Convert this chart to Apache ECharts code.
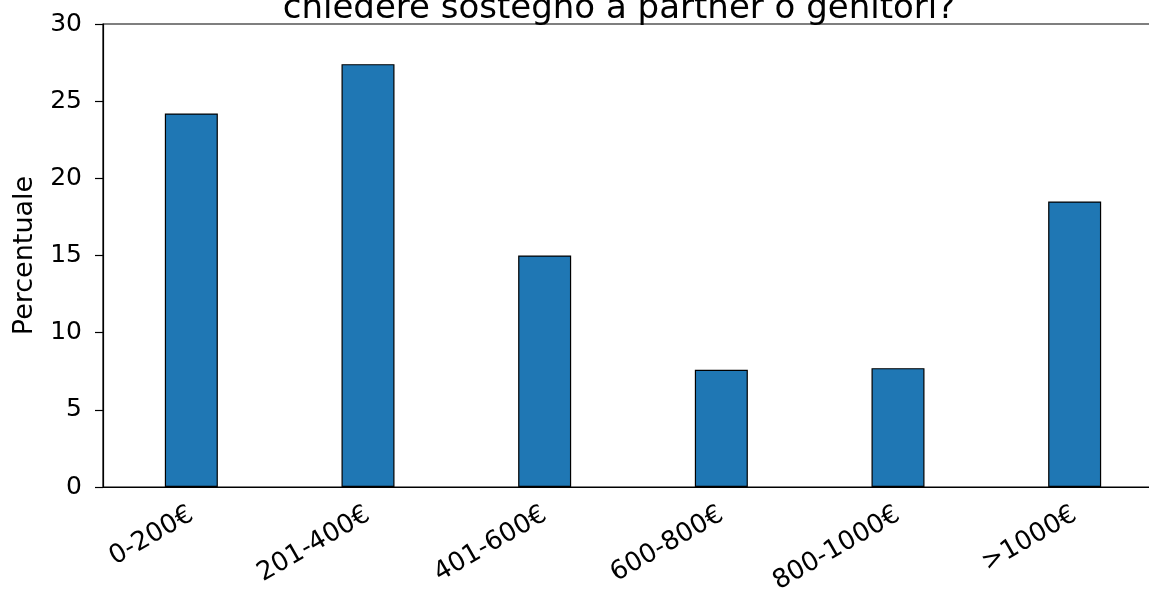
<!DOCTYPE html>
<html>
<head>
<meta charset="utf-8">
<script src="https://cdn.jsdelivr.net/npm/echarts@6/dist/echarts.min.js"></script>
<style>html,body{margin:0;padding:0;background:#fff;}#c{width:1149px;height:597px;}</style>
</head>
<body>
<div id="c"></div>
<script>
const titleText = 'chiedere sostegno a partner o genitori?';
const yAxisName = 'Percentuale';
const categories = ['0-200€', '201-400€', '401-600€', '600-800€', '800-1000€', '>1000€'];
const values = [24.2, 27.4, 15.0, 7.6, 7.7, 18.5];
const yTicks = [0, 5, 10, 15, 20, 25, 30];

const font = 'DejaVu Sans';
const chart = echarts.init(document.getElementById('c'), null, {renderer: 'canvas'});
chart.setOption({
  animation: false,
  backgroundColor: '#fff',
  title: {
    text: titleText,
    left: 614, textAlign: 'center',
    top: -13,
    textStyle: {fontFamily: font, fontSize: 34, fontWeight: 'normal', color: '#000'}
  },
  grid: {left: 103, width: 1060, top: 24, bottom: 110, show: true, borderColor: '#000', borderWidth: 1.2,
    containLabel: false, outerBoundsMode: 'none'},
  xAxis: {
    type: 'category', data: categories,
    axisLine: {lineStyle: {color: '#000', width: 1.2}},
    axisTick: {alignWithLabel: true, length: 8, lineStyle: {color: '#000', width: 1.2}},
    axisLabel: {rotate: 30, margin: 26, fontFamily: font, fontSize: 26, color: '#000'}
  },
  yAxis: {
    type: 'value', min: 0, max: 30, interval: 5,
    name: yAxisName, nameLocation: 'middle', nameGap: 65,
    nameTextStyle: {fontFamily: font, fontSize: 27, color: '#000'},
    axisLine: {show: true, lineStyle: {color: '#000', width: 1.2}},
    axisTick: {show: true, length: 8, lineStyle: {color: '#000', width: 1.2}},
    axisLabel: {margin: 21, fontFamily: font, fontSize: 25, color: '#000',
      formatter: v => yTicks.includes(v) ? String(v) : ''},
    splitLine: {show: false}
  },
  series: [{
    type: 'bar', data: values, barWidth: '30%',
    itemStyle: {color: '#1f77b4', borderColor: '#000', borderWidth: 1.2}
  }]
});
</script>
</body>
</html>
